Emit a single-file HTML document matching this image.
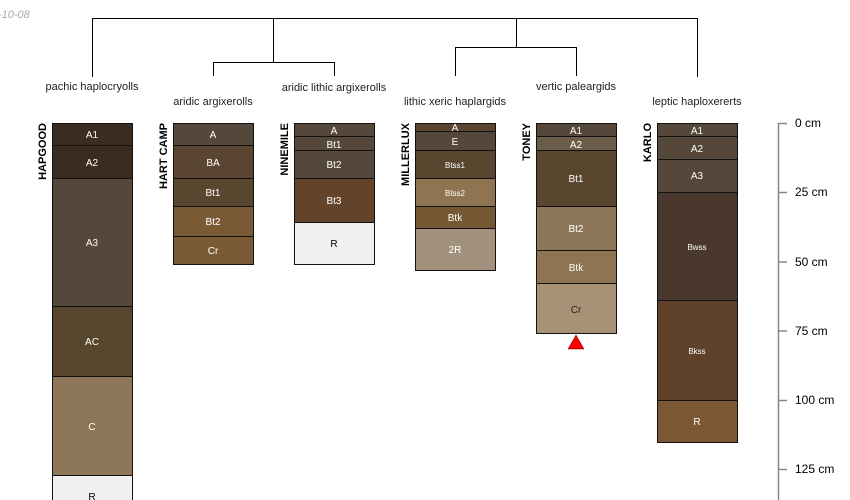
<!DOCTYPE html>
<html><head><meta charset="utf-8"><style>
html,body{margin:0;padding:0;background:#fff;}
svg{display:block;font-family:"Liberation Sans",sans-serif;}
</style></head><body>
<svg width="850" height="500" viewBox="0 0 850 500" xmlns="http://www.w3.org/2000/svg">
<text x="-2" y="18" font-size="11" font-style="italic" fill="#aaa">-10-08</text>
<g stroke="#000" stroke-width="1" fill="none">
<path d="M92.5 77V18.5H697.5V77"/>
<path d="M273.5 18.5V62.5M213.5 76V62.5H334.5V76"/>
<path d="M516.5 18.5V47.5M455.5 76V47.5H576.5V76"/>
</g>
<g font-size="11" fill="#222" text-anchor="middle">
<text x="92" y="90">pachic haplocryolls</text>
<text x="213" y="105">aridic argixerolls</text>
<text x="334" y="91">aridic lithic argixerolls</text>
<text x="455" y="105">lithic xeric haplargids</text>
<text x="576" y="90">vertic paleargids</text>
<text x="697" y="105">leptic haploxererts</text>
</g>
<g font-size="11" font-weight="bold" fill="#000">
<text transform="translate(46,123) rotate(-90)" text-anchor="end">HAPGOOD</text>
<text transform="translate(167,123) rotate(-90)" text-anchor="end">HART CAMP</text>
<text transform="translate(288,123) rotate(-90)" text-anchor="end">NINEMILE</text>
<text transform="translate(409,123) rotate(-90)" text-anchor="end">MILLERLUX</text>
<text transform="translate(530,123) rotate(-90)" text-anchor="end">TONEY</text>
<text transform="translate(651,123) rotate(-90)" text-anchor="end">KARLO</text>
</g>
<g stroke="#111" stroke-width="1">
<rect x="52.5" y="123.5" width="80" height="22" fill="#3a2c20"/>
<rect x="52.5" y="145.5" width="80" height="33" fill="#3a2c20"/>
<rect x="52.5" y="178.5" width="80" height="128" fill="#55473a"/>
<rect x="52.5" y="306.5" width="80" height="70" fill="#58462f"/>
<rect x="52.5" y="376.5" width="80" height="99" fill="#8e7658"/>
<rect x="52.5" y="475.5" width="80" height="30" fill="#f0f0f0"/>
<rect x="173.5" y="123.5" width="80" height="22" fill="#55473a"/>
<rect x="173.5" y="145.5" width="80" height="33" fill="#5a4530"/>
<rect x="173.5" y="178.5" width="80" height="28" fill="#58462f"/>
<rect x="173.5" y="206.5" width="80" height="30" fill="#7a5a35"/>
<rect x="173.5" y="236.5" width="80" height="28" fill="#7a5a35"/>
<rect x="294.5" y="123.5" width="80" height="13" fill="#55473a"/>
<rect x="294.5" y="136.5" width="80" height="14" fill="#55473a"/>
<rect x="294.5" y="150.5" width="80" height="28" fill="#55473a"/>
<rect x="294.5" y="178.5" width="80" height="44" fill="#634329"/>
<rect x="294.5" y="222.5" width="80" height="42" fill="#f0f0f0"/>
<rect x="415.5" y="123.5" width="80" height="8" fill="#5b4530"/>
<rect x="415.5" y="131.5" width="80" height="19" fill="#55473a"/>
<rect x="415.5" y="150.5" width="80" height="28" fill="#58462f"/>
<rect x="415.5" y="178.5" width="80" height="28" fill="#8e7450"/>
<rect x="415.5" y="206.5" width="80" height="22" fill="#765834"/>
<rect x="415.5" y="228.5" width="80" height="42" fill="#a2917c"/>
<rect x="536.5" y="123.5" width="80" height="13" fill="#55473a"/>
<rect x="536.5" y="136.5" width="80" height="14" fill="#6e5c4b"/>
<rect x="536.5" y="150.5" width="80" height="56" fill="#58462f"/>
<rect x="536.5" y="206.5" width="80" height="44" fill="#8e7658"/>
<rect x="536.5" y="250.5" width="80" height="33" fill="#8e7450"/>
<rect x="536.5" y="283.5" width="80" height="50" fill="#a89175"/>
<rect x="657.5" y="123.5" width="80" height="13" fill="#55473a"/>
<rect x="657.5" y="136.5" width="80" height="23" fill="#55473a"/>
<rect x="657.5" y="159.5" width="80" height="33" fill="#55473a"/>
<rect x="657.5" y="192.5" width="80" height="108" fill="#4a382e"/>
<rect x="657.5" y="300.5" width="80" height="100" fill="#5f4028"/>
<rect x="657.5" y="400.5" width="80" height="42" fill="#7d5633"/>
</g>
<polygon points="576,335 568,349 584,349" fill="#f00" stroke="#600" stroke-width="0.5"/>
<g font-size="10" fill="#fff" text-anchor="middle">
<text x="92" y="138">A1</text><text x="92" y="166">A2</text><text x="92" y="246">A3</text>
<text x="92" y="345">AC</text><text x="92" y="430">C</text><text x="92" y="500" fill="#000">R</text>
<text x="213" y="138">A</text><text x="213" y="166">BA</text><text x="213" y="196">Bt1</text>
<text x="213" y="225">Bt2</text><text x="213" y="254">Cr</text>
<text x="334" y="134">A</text><text x="334" y="148">Bt1</text><text x="334" y="168">Bt2</text>
<text x="334" y="204">Bt3</text><text x="334" y="247" fill="#000">R</text>
<text x="455" y="131">A</text><text x="455" y="145">E</text>
<text x="455" y="168" font-size="8">Btss1</text><text x="455" y="196" font-size="8">Btss2</text>
<text x="455" y="221">Btk</text><text x="455" y="253">2R</text>
<text x="576" y="134">A1</text><text x="576" y="148">A2</text><text x="576" y="182">Bt1</text>
<text x="576" y="232">Bt2</text><text x="576" y="271">Btk</text><text x="576" y="313" fill="#222">Cr</text>
<text x="697" y="134">A1</text><text x="697" y="152">A2</text><text x="697" y="179">A3</text>
<text x="697" y="250" font-size="8">Bwss</text><text x="697" y="354" font-size="8">Bkss</text>
<text x="697" y="425">R</text>
</g>
<g stroke="#888" stroke-width="1.5">
<path d="M778.5 123V500"/>
<path d="M778 123.5H787M778 192.5H787M778 262H787M778 331H787M778 400.5H787M778 469.5H787"/>
</g>
<g font-size="12" fill="#000">
<text x="795" y="127">0 cm</text><text x="795" y="196">25 cm</text><text x="795" y="266">50 cm</text>
<text x="795" y="335">75 cm</text><text x="795" y="404">100 cm</text><text x="795" y="473">125 cm</text>
</g>
</svg>
</body></html>
